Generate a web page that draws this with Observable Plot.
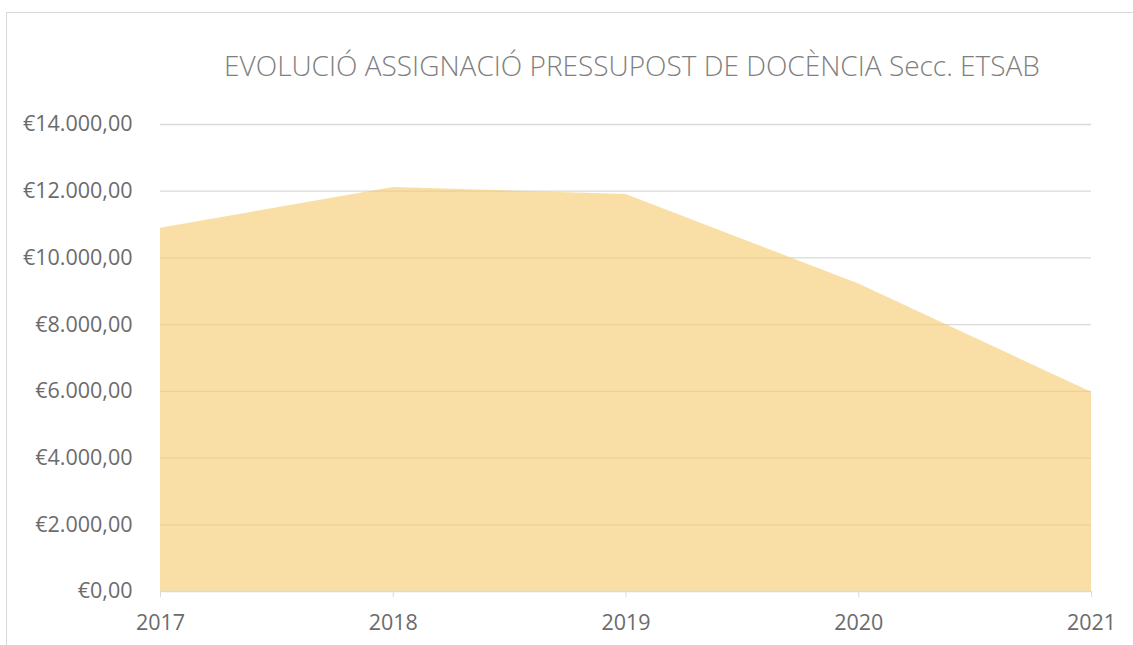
<!DOCTYPE html>
<html>
<head>
<meta charset="utf-8">
<script src="https://cdn.jsdelivr.net/npm/d3@7"></script>
<script src="https://cdn.jsdelivr.net/npm/@observablehq/plot@0.6"></script>
<style>
  html, body { margin: 0; padding: 0; background: #fff; }
  #wrap { position: relative; width: 1133px; height: 645px; overflow: hidden; font-family: "Open Sans", sans-serif; }
  #frame { position: absolute; left: 6px; top: 12px; width: 1140px; height: 700px; border: 1.5px solid #d9d9d9; box-sizing: border-box; }
  #title { position: absolute; left: 0; top: 0; width: 1133px; height: 94px; box-sizing: border-box; padding-left: 131px; padding-top: 51px; text-align: center; font-family: "Open Sans", sans-serif; font-weight: 300; font-size: 28px; color: #7f7f7f; line-height: 1; white-space: nowrap; }
  #chart { position: absolute; left: 0; top: 94px; }
</style>
</head>
<body>
<div id="wrap">
  <div id="frame"></div>
  <div id="title">EVOLUCIÓ ASSIGNACIÓ PRESSUPOST DE DOCÈNCIA Secc. ETSAB</div>
  <div id="chart"></div>
</div>
<script>
const years = [2017, 2018, 2019, 2020, 2021];
const values = [10890, 12110, 11900, 9220, 5970];
const yTicks = [0, 2000, 4000, 6000, 8000, 10000, 12000, 14000];

const data = years.map((y, i) => ({year: y, value: values[i]}));
const eur = d3.formatLocale({decimal: ",", thousands: ".", grouping: [3], currency: ["€", ""]}).format("$,.2f");

const chart = Plot.plot({
  width: 1133,
  height: 551,
  marginTop: 30,
  marginBottom: 54,
  marginLeft: 160,
  marginRight: 42,
  style: {fontFamily: "Open Sans, sans-serif", background: "transparent"},
  x: {domain: [2017, 2021]},
  y: {domain: [0, 14000]},
  marks: [
    Plot.ruleY(yTicks.filter(d => d > 0), {stroke: "#d9d9d9", strokeWidth: 1.3, strokeOpacity: 1}),
    Plot.areaY(data, {x: "year", y: "value", fill: "#F6C96E", fillOpacity: 0.62}),
    Plot.ruleY([0], {stroke: "#d9d9d9", strokeWidth: 1.3}),
    Plot.axisY({ticks: yTicks, tickFormat: eur, tickSize: 0, tickPadding: 28, fontSize: 21.5, fill: "#6b6b6b", label: null}),
    Plot.axisX({ticks: years, tickFormat: d => String(d), tickSize: 6, tickPadding: 17, fontSize: 21.5, stroke: "#d9d9d9", fill: "#6b6b6b", label: null})
  ]
});
chart.querySelectorAll("text").forEach(t => t.style.fontSize = "21.5px");
document.getElementById("chart").appendChild(chart);
</script>
</body>
</html>
